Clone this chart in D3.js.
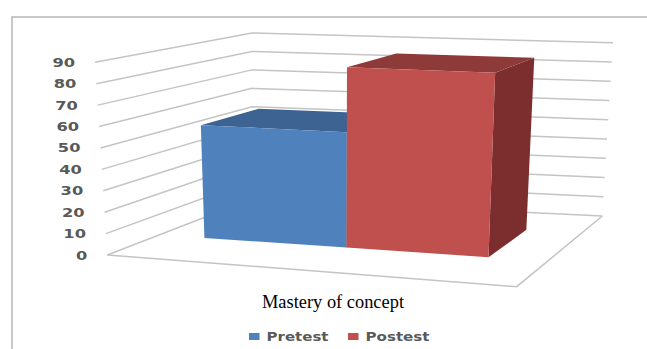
<!DOCTYPE html>
<html><head><meta charset="utf-8">
<script src="https://cdn.jsdelivr.net/npm/d3@7"></script>
<style>body{margin:0;background:#fff}</style>
</head><body>
<svg id="c" width="647" height="349"></svg>
<script>
const categories = ["Mastery of concept"];
const seriesNames = ["Pretest", "Postest"];
const pretest = [55];
const postest = [86];
const tickValues = [0, 10, 20, 30, 40, 50, 60, 70, 80, 90];
const tickLabels = ["0", "10", "20", "30", "40", "50", "60", "70", "80", "90"];

// ---- layout: corners of the 3-D plot box in pixels (value 0 and value 90)
const box = {
  bottom: { fl: [107.3, 255], fr: [516.7, 286.7], bl: [252, 199], br: [602.3, 216] },
  top:    { fl: [95, 62.3],   fr: [525.7, 79.5],  bl: [252, 33],  br: [613, 42.7] }
};
const depthRange = [0.36, 0.76];
const colors = {
  Pretest: { front: "#4f81bd", top: "#3d6393", side: "#34547d" },
  Postest: { front: "#c0504d", top: "#8e3a38", side: "#7b2e2d" }
};

const lerp = (a, b, t) => [a[0] + (b[0] - a[0]) * t, a[1] + (b[1] - a[1]) * t];
function bil(c, X, Z) { return lerp(lerp(c.fl, c.fr, X), lerp(c.bl, c.br, X), Z); }
function project(X, Y, Z) { return lerp(bil(box.bottom, X, Z), bil(box.top, X, Z), Y); }

const yS = d3.scaleLinear().domain([0, 90]).range([0, 1]);
const xS = d3.scaleBand().domain(seriesNames).range([0.116, 0.848]).paddingInner(0);
const values = { Pretest: pretest[0], Postest: postest[0] };

const svg = d3.select("#c");
const line = d3.line();

// outer frame
svg.append("path").attr("d", "M12,349 L12,17 L647,17")
  .attr("fill", "none").attr("stroke", "#b7b7b7").attr("stroke-width", 1.5);

// gridlines on left and back walls
const grid = svg.append("g").attr("fill", "none").attr("stroke", "#c4c4c4").attr("stroke-width", 1.5);
tickValues.forEach(v => {
  const Y = yS(v);
  grid.append("path").attr("d", line([project(0, Y, 0), project(0, Y, 1), project(1, Y, 1)]));
});
// floor outline
grid.append("path").attr("d", line([project(0, 0, 0), project(1, 0, 0), project(1, 0, 1)]));

// axis labels
const ax = svg.append("g").attr("font-family", "DejaVu Sans, sans-serif").attr("font-weight", "bold")
  .attr("font-size", 13).attr("fill", "#595959").attr("text-anchor", "end");
tickValues.forEach((v, i) => {
  const p = project(0, yS(v), 0);
  ax.append("text").attr("transform", `translate(${p[0] - 20},${p[1] + 4.5}) scale(1.25,1)`).text(tickLabels[i]);
});

// bars
const [z0, z1] = depthRange;
seriesNames.forEach(s => {
  const x0 = xS(s), x1 = x0 + xS.bandwidth(), Y = yS(values[s]);
  const g = svg.append("g");
  const poly = pts => "M" + pts.map(p => p.join(",")).join("L") + "Z";
  g.append("path").attr("d", poly([project(x1, 0, z0), project(x1, 0, z1), project(x1, Y, z1), project(x1, Y, z0)])).attr("fill", colors[s].side);
  g.append("path").attr("d", poly([project(x0, Y, z0), project(x1, Y, z0), project(x1, Y, z1), project(x0, Y, z1)])).attr("fill", colors[s].top);
  g.append("path").attr("d", poly([project(x0, 0, z0), project(x1, 0, z0), project(x1, Y, z0), project(x0, Y, z0)])).attr("fill", colors[s].front);
});

// category label
svg.append("text").attr("x", 333).attr("y", 308).attr("text-anchor", "middle")
  .attr("font-family", "Liberation Serif, Times New Roman, serif").attr("font-size", 18).attr("fill", "#000")
  .attr("textLength", 142).attr("lengthAdjust", "spacingAndGlyphs").text(categories[0]);

// legend
const legend = svg.append("g").attr("font-family", "DejaVu Sans, sans-serif").attr("font-weight", "bold")
  .attr("font-size", 13).attr("fill", "#595959");
const legX = [249, 348], legTextLen = [62, 64];
seriesNames.forEach((s, i) => {
  legend.append("rect").attr("x", legX[i]).attr("y", 333).attr("width", 10.5).attr("height", 7).attr("fill", colors[s].front);
  legend.append("text").attr("x", legX[i] + 17.5).attr("y", 340.5).attr("textLength", legTextLen[i])
    .attr("lengthAdjust", "spacingAndGlyphs").text(s);
});
</script>
</body></html>
